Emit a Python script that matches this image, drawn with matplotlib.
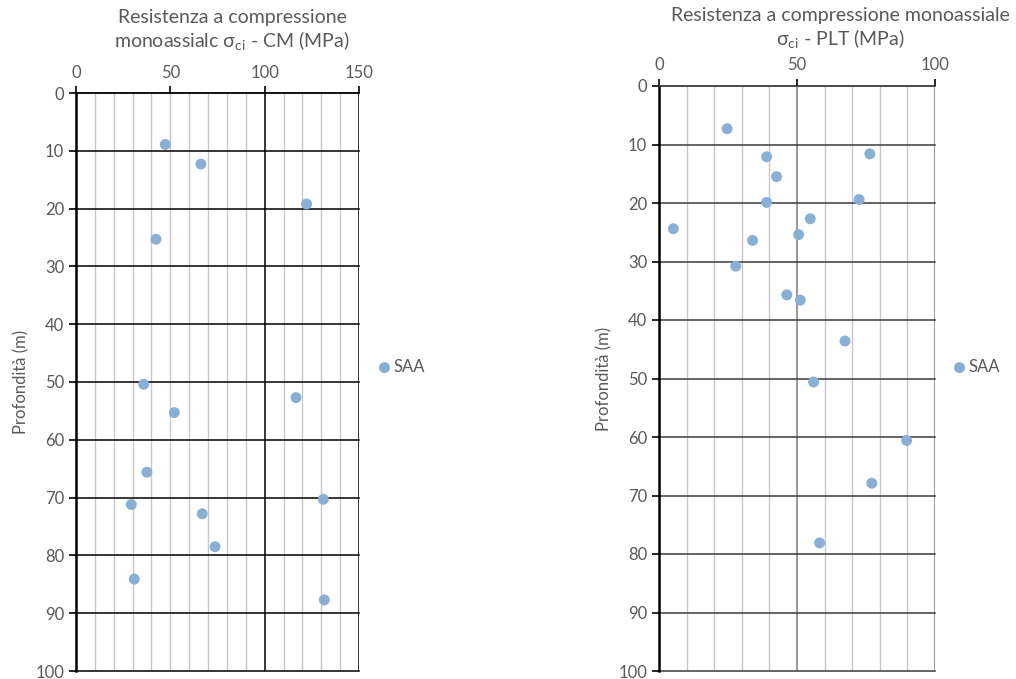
import matplotlib.pyplot as plt
import numpy as np

plt.rcParams['font.family'] = ['Lato', 'DejaVu Sans']

# CM panel (left): strength (MPa) vs depth (m)
cm_strength = [47.3, 66.2, 122.2, 42.4, 35.9, 116.6, 52.1, 37.6, 29.3, 66.9,
               73.7, 30.9, 131.1, 131.6]
cm_depth = [8.9, 12.3, 19.2, 25.3, 50.4, 52.7, 55.3, 65.6, 71.2, 72.8,
            78.5, 84.1, 70.3, 87.7]

# PLT panel (right)
plt_strength = [24.7, 39.0, 76.4, 42.6, 72.5, 39.0, 54.8, 5.2, 50.6, 33.9,
                27.8, 46.3, 51.2, 67.4, 56.0, 89.7, 77.1, 58.2]
plt_depth = [7.3, 12.1, 11.6, 15.5, 19.4, 19.9, 22.7, 24.4, 25.4, 26.4,
             30.8, 35.7, 36.6, 43.6, 50.6, 60.6, 67.9, 78.1]

series_name = "SAA"
depth_ticks = list(range(0, 101, 10))
cm_ticks = [0, 50, 100, 150]
plt_ticks = [0, 50, 100]

MARKER = "#8AAFD5"
TXT = "#595959"


def setup(ax, xmax, xticks, major_lines, hcol, major_col, minor_col):
    ax.set_xlim(0, xmax)
    ax.set_ylim(100, 0)
    ax.xaxis.tick_top()
    ax.set_xticks(xticks)
    ax.set_yticks(depth_ticks)
    for x in range(10, xmax + 1, 10):
        if x in major_lines:
            ax.axvline(x, color=major_col, lw=1.1, zorder=1)
        else:
            ax.axvline(x, color=minor_col, lw=1.0, zorder=1)
    for y in depth_ticks[1:]:
        ax.axhline(y, color=hcol, lw=1.1, zorder=1, clip_on=False)
    for s in ["right", "bottom"]:
        ax.spines[s].set_visible(False)
    ax.spines["left"].set_linewidth(1.8)
    ax.spines["left"].set_color("black")
    ax.spines["top"].set_linewidth(1.3)
    ax.spines["top"].set_color(hcol)
    ax.tick_params(axis="both", colors="black", labelcolor=TXT, labelsize=12,
                   length=5, width=1.2, direction="out")
    ax.tick_params(axis="x", pad=4)
    ax.set_ylabel("Profondità (m)", color=TXT, fontsize=12, labelpad=4)


fig = plt.figure(figsize=(10.16, 6.79), dpi=100)

ax1 = fig.add_axes([76 / 1016, 8 / 679, 283 / 1016, 578 / 679])
setup(ax1, 150, cm_ticks, [100, 150], "black", "black", "#c8c8c8")
ax1.scatter(cm_strength, cm_depth, s=62, color=MARKER, zorder=3,
            label=series_name, edgecolors="none")
fig.text(232 / 1016, 1 - 31 / 679,
         "Resistenza a compressione\nmonoassialc σ$_{\\mathregular{ci}}$ - CM (MPa)",
         ha="center", va="center", color=TXT, fontsize=14, linespacing=1.15)
ax1.legend(loc="center left", bbox_to_anchor=(377 / 1016, 1 - 367 / 679),
           bbox_transform=fig.transFigure, frameon=False, handletextpad=0.1,
           handlelength=0.9, fontsize=12, labelcolor=TXT, borderpad=0,
           borderaxespad=0)

ax2 = fig.add_axes([659 / 1016, 8 / 679, 276 / 1016, 585 / 679])
setup(ax2, 100, plt_ticks, [50, 100], "#3a3a3a", "#7a7a7a", "#c8c8c8")
ax2.scatter(plt_strength, plt_depth, s=62, color=MARKER, zorder=3,
            label=series_name, edgecolors="none")
fig.text(840 / 1016, 1 - 29 / 679,
         "Resistenza a compressione monoassiale\nσ$_{\\mathregular{ci}}$ - PLT (MPa)",
         ha="center", va="center", color=TXT, fontsize=14, linespacing=1.15)
ax2.legend(loc="center left", bbox_to_anchor=(952 / 1016, 1 - 367 / 679),
           bbox_transform=fig.transFigure, frameon=False, handletextpad=0.1,
           handlelength=0.9, fontsize=12, labelcolor=TXT, borderpad=0,
           borderaxespad=0)

fig.savefig("out.png", dpi=100)
